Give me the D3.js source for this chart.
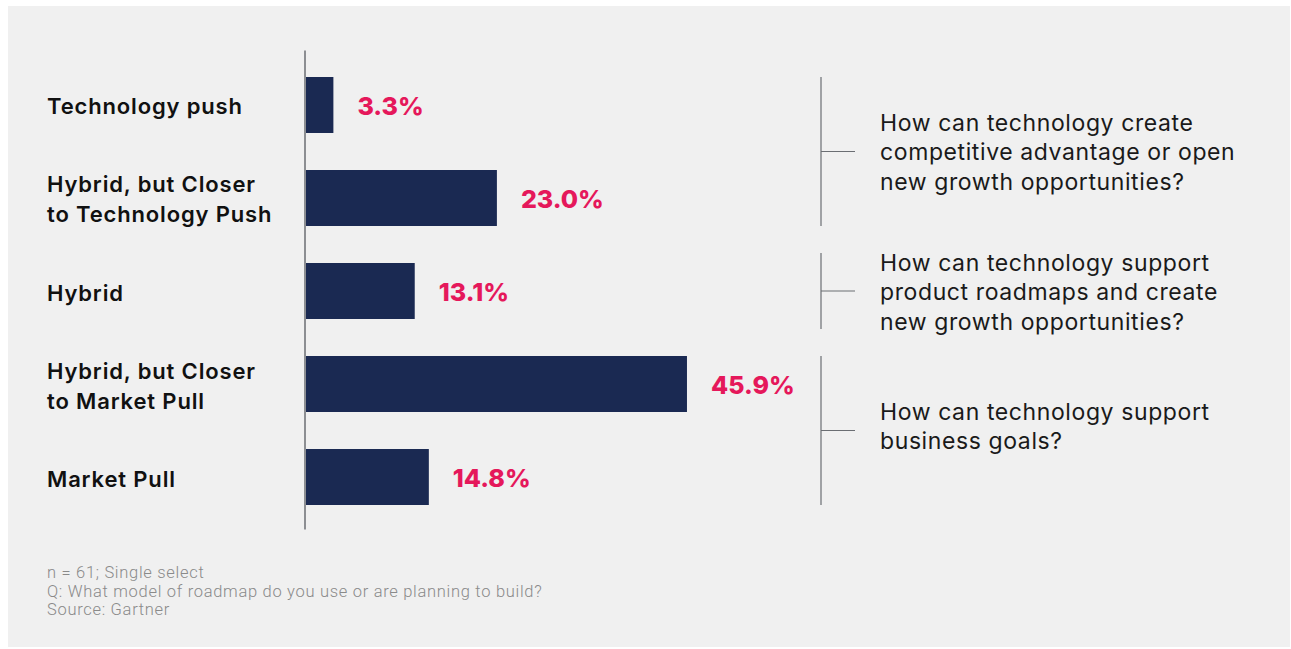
<!DOCTYPE html>
<html>
<head>
<meta charset="utf-8">
<script src="https://cdn.jsdelivr.net/npm/d3@7"></script>
<style>
  html, body { margin: 0; padding: 0; background: #ffffff; }
  svg { display: block; }
  .cat { font-family: Inter, "Noto Sans", sans-serif; font-weight: 600; font-size: 22px; letter-spacing: 0.85px; fill: #111111; }
  .val { font-family: Inter, "Noto Sans", sans-serif; font-weight: 800; font-size: 25px; fill: #e5185b; }
  .note { font-family: Inter, "Noto Sans", sans-serif; font-weight: 400; font-size: 23px; letter-spacing: 0.6px; fill: #1a1a1a; }
  .foot { font-family: Roboto, "Noto Sans", sans-serif; font-weight: 300; font-size: 16.5px; letter-spacing: 0.7px; fill: #8a8a8a; }
</style>
</head>
<body>
<div id="chart"></div>
<script>
// categories, one entry per bar (label lines)
var categories = [
  ['Technology push'],
  ['Hybrid, but Closer', 'to Technology Push'],
  ['Hybrid'],
  ['Hybrid, but Closer', 'to Market Pull'],
  ['Market Pull']
];
var values = [3.3, 23.0, 13.1, 45.9, 14.8];

// right-hand notes: which bars they span
var noteFrom = [0, 2, 3];
var noteTo   = [1, 2, 4];
var noteText = [
  ['How can technology create', 'competitive advantage or open', 'new growth opportunities?'],
  ['How can technology support', 'product roadmaps and create', 'new growth opportunities?'],
  ['How can technology support', 'business goals?']
];

var footnotes = [
  'n = 61; Single select',
  'Q: What model of roadmap do you use or are planning to build?',
  'Source: Gartner'
];

var W = 1291, H = 649;

var svg = d3.select('#chart')
  .append('svg')
    .attr('width', W)
    .attr('height', H);

// panel
svg.append('rect')
  .attr('x', 8)
  .attr('y', 6)
  .attr('width', 1282)
  .attr('height', 641)
  .attr('fill', '#f0f0f0');

var keys = d3.range(categories.length);

var y = d3.scaleBand()
  .domain(keys)
  .range([58.4, 523.6])
  .paddingInner(0.398)
  .paddingOuter(0.2);

var x = d3.scaleLinear()
  .domain([0, 50])
  .range([306, 721]);

// bars
svg.append('g')
  .selectAll('rect')
  .data(keys)
  .join('rect')
    .attr('x', x(0))
    .attr('y', function (d) { return y(d); })
    .attr('width', function (d) { return x(values[d]) - x(0); })
    .attr('height', y.bandwidth())
    .attr('fill', '#1a2952');

// vertical axis line
svg.append('line')
  .attr('x1', 305).attr('x2', 305)
  .attr('y1', y.range()[0] - 8)
  .attr('y2', y.range()[1] + 6)
  .attr('stroke', '#6b6e73')
  .attr('stroke-width', 1.5);

// category labels
var lh = 30;
svg.append('g')
  .selectAll('text')
  .data(keys)
  .join('text')
    .attr('class', 'cat')
    .attr('x', 47)
    .each(function (d) {
      var lines = categories[d],
          cy = y(d) + y.bandwidth() / 2;
      d3.select(this).selectAll('tspan')
        .data(lines)
        .join('tspan')
          .attr('x', 47)
          .attr('y', function (t, i) { return cy + 9.5 + (i - (lines.length - 1) / 2) * lh; })
          .text(function (t) { return t; });
    });

// value labels
svg.append('g')
  .selectAll('text')
  .data(keys)
  .join('text')
    .attr('class', 'val')
    .attr('x', function (d) { return x(values[d]) + 24; })
    .attr('y', function (d) { return y(d) + y.bandwidth() / 2 + 10; })
    .text(function (d) { return values[d].toFixed(1) + '%'; });

// brackets with notes
var bx = 821, tickLen = 34, nlh = 29.5;
var noteShift = [9, 9, 4];
noteText.forEach(function (lines, k) {
  var top = y(noteFrom[k]),
      bot = y(noteTo[k]) + y.bandwidth(),
      pad = noteFrom[k] === noteTo[k] ? 10 : 0;
  top -= pad; bot += pad;
  var mid = (top + bot) / 2;
  var g = svg.append('g');
  g.append('line')
    .attr('x1', bx).attr('x2', bx)
    .attr('y1', top).attr('y2', bot)
    .attr('stroke', '#6b6e73').attr('stroke-width', 1.2);
  g.append('line')
    .attr('x1', bx).attr('x2', bx + tickLen)
    .attr('y1', mid).attr('y2', mid)
    .attr('stroke', '#6b6e73').attr('stroke-width', 1.2);
  g.append('text')
    .attr('class', 'note')
    .selectAll('tspan')
    .data(lines)
    .join('tspan')
      .attr('x', 880)
      .attr('y', function (t, i) { return mid + noteShift[k] + (i - (lines.length - 1) / 2) * nlh; })
      .text(function (t) { return t; });
});

// footnote
svg.append('text')
  .attr('class', 'foot')
  .selectAll('tspan')
  .data(footnotes)
  .join('tspan')
    .attr('x', 47)
    .attr('y', function (t, i) { return 578 + i * 18.5; })
    .text(function (t) { return t; });
</script>
</body>
</html>
